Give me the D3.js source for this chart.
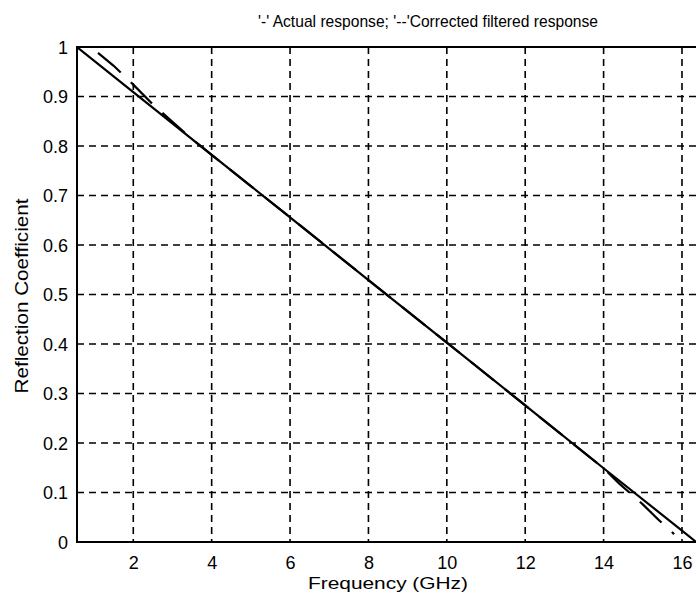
<!DOCTYPE html>
<html><head><meta charset="utf-8">
<script src="https://cdn.jsdelivr.net/npm/d3@7"></script>
<style>html,body{margin:0;padding:0;background:#fff;overflow:hidden}svg{display:block}</style>
</head><body>
<svg id="c" width="696" height="604"></svg>
<script>
// ---- data ----
const titleText = "'-' Actual response; '--'Corrected filtered response";
const xLabelText = "Frequency (GHz)";
const yLabelText = "Reflection Coefficient";
const xTicks = [2, 4, 6, 8, 10, 12, 14, 16];
const yTicks = [0, 0.1, 0.2, 0.3, 0.4, 0.5, 0.6, 0.7, 0.8, 0.9, 1];
const yTickLabels = ["0", "0.1", "0.2", "0.3", "0.4", "0.5", "0.6", "0.7", "0.8", "0.9", "1"];
const actualX = [0.564, 2, 4, 6, 8, 10, 12, 14, 16, 16.36];
const actualY = [1.0, 0.909, 0.782, 0.656, 0.529, 0.403, 0.276, 0.149, 0.023, 0.0];
const filteredX = [1.1, 1.5, 2, 2.5, 3, 3.5, 4, 6, 8, 10, 12, 14, 14.4, 15, 15.4, 15.8];
const filteredY = [0.988, 0.962, 0.924, 0.884, 0.849, 0.814, 0.782, 0.656, 0.529, 0.403, 0.276, 0.149, 0.118, 0.076, 0.045, 0.016];

// ---- layout ----
const L = 77, T = 47, B = 542, R = 720;
const svg = d3.select("#c");
const font = "'Liberation Sans', Arial, sans-serif";
const x = d3.scaleLinear().domain([0.564, 16.97]).range([L, R]);
const y = d3.scaleLinear().domain([0, 1]).range([B, T]);

// grid
const g = svg.append("g");
g.selectAll("line.vx").data(xTicks).join("line")
  .attr("x1", d => x(d)).attr("x2", d => x(d)).attr("y1", T).attr("y2", B)
  .attr("stroke", "#000").attr("stroke-width", 1.6).attr("stroke-dasharray", "7,5");
g.selectAll("line.hy").data(yTicks.filter(d => d > 0 && d < 1)).join("line")
  .attr("x1", L).attr("x2", R).attr("y1", d => y(d)).attr("y2", d => y(d))
  .attr("stroke", "#000").attr("stroke-width", 1.6).attr("stroke-dasharray", "7,5");

// axes box
svg.append("rect").attr("x", L).attr("y", T).attr("width", R - L).attr("height", B - T)
  .attr("fill", "none").attr("stroke", "#000").attr("stroke-width", 2);

// axes via d3 (labels only)
const xAxis = d3.axisBottom(x).tickValues(xTicks).tickSize(0).tickPadding(0).tickFormat(d3.format("d"));
const xa = svg.append("g").attr("transform", `translate(0,${B})`).call(xAxis);
xa.select(".domain").remove();
xa.selectAll("text").attr("font-family", font).attr("font-size", 18).attr("fill", "#000")
  .attr("dy", null).attr("y", 27);

const yAxis = d3.axisLeft(y).tickValues(yTicks).tickSize(0).tickPadding(0)
  .tickFormat((d, i) => yTickLabels[i]);
const ya = svg.append("g").attr("transform", `translate(68,0)`).call(yAxis);
ya.select(".domain").remove();
ya.selectAll("text").attr("font-family", font).attr("font-size", 18).attr("fill", "#000")
  .attr("dy", "0.36em").attr("x", 0);

// lines
svg.append("clipPath").attr("id", "pc").append("rect")
  .attr("x", L).attr("y", T - 1).attr("width", R - L).attr("height", B - T + 2);
const line = d3.line().x(d => x(d[0])).y(d => y(d[1]));
svg.append("path").datum(actualX.map((v, i) => [v, actualY[i]]))
  .attr("d", line).attr("fill", "none").attr("stroke", "#000").attr("stroke-width", 2.2)
  .attr("clip-path", "url(#pc)");
svg.append("path").datum(filteredX.map((v, i) => [v, filteredY[i]]))
  .attr("d", line).attr("fill", "none").attr("stroke", "#000").attr("stroke-width", 2.2)
  .attr("stroke-dasharray", "30,14").attr("clip-path", "url(#pc)");

// texts
svg.append("text").attr("x", 258).attr("y", 27).attr("font-family", font).attr("font-size", 17)
  .attr("textLength", 340).attr("lengthAdjust", "spacingAndGlyphs").text(titleText);
svg.append("text").attr("x", 388).attr("y", 589).attr("text-anchor", "middle")
  .attr("font-family", font).attr("font-size", 17)
  .attr("textLength", 160).attr("lengthAdjust", "spacingAndGlyphs").text(xLabelText);
svg.append("text").attr("transform", "translate(28,296) rotate(-90)").attr("text-anchor", "middle")
  .attr("font-family", font).attr("font-size", 18)
  .attr("textLength", 195).attr("lengthAdjust", "spacingAndGlyphs").text(yLabelText);
</script>
</body></html>
